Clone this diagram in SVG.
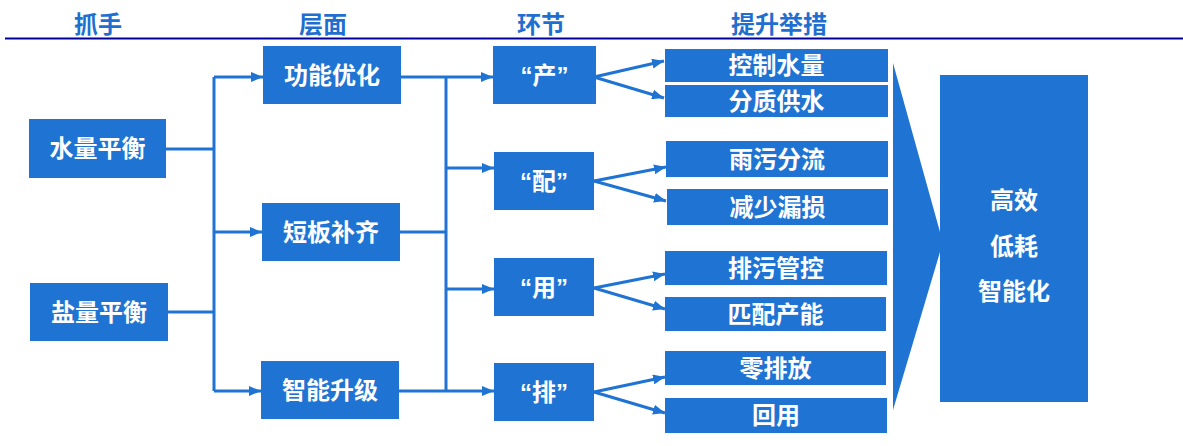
<svg xmlns="http://www.w3.org/2000/svg" width="1183" height="446" viewBox="0 0 1183 446">
<style>
.box{fill:#1F74D3}
.t{font-family:"Liberation Sans","Noto Sans CJK SC",sans-serif;font-weight:bold;font-size:24px;fill:#fff;text-anchor:middle;dominant-baseline:central}
.h{font-family:"Liberation Sans","Noto Sans CJK SC",sans-serif;font-weight:bold;font-size:24px;fill:#1F6FD0;text-anchor:middle;dominant-baseline:central}
.c{stroke:#1F74D3;stroke-width:3;fill:none}
.a{stroke:#1F74D3;stroke-width:3;fill:none;marker-end:url(#ah)}
</style>
<defs>
<marker id="ah" viewBox="0 0 12 10" refX="12" refY="5" markerWidth="12" markerHeight="10" markerUnits="userSpaceOnUse" orient="auto">
<path d="M0,0 L12,5 L0,10 z" fill="#1F74D3"/>
</marker>
</defs>
<rect width="1183" height="446" fill="#fff"/>
<g id="header">
<text class="h" x="98" y="24">抓手</text>
<text class="h" x="323" y="24">层面</text>
<text class="h" x="541" y="24">环节</text>
<text class="h" x="779" y="24">提升举措</text>
<line x1="5" y1="38.5" x2="1183" y2="38.5" stroke="#000099" stroke-width="2"/>
</g>
<g id="connectors">
<path class="c" d="M166,149 H214 M168,312 H214 M214,77 V391"/>
<path class="a" d="M214,77 H263"/>
<path class="a" d="M214,232 H262"/>
<path class="a" d="M214,391 H261"/>
<path class="c" d="M401,77 H446 M400,232 H446 M399,391 H446 M446,77 V391"/>
<path class="a" d="M446,77 H493"/>
<path class="a" d="M446,168 H494"/>
<path class="a" d="M446,289 H494"/>
<path class="a" d="M446,391 H494"/>
<path class="a" d="M594,77 L664,61"/>
<path class="a" d="M594,77 L664,98"/>
<path class="a" d="M594,181 L666,167"/>
<path class="a" d="M594,181 L666,201"/>
<path class="a" d="M594,288 L665,274"/>
<path class="a" d="M594,288 L665,309"/>
<path class="a" d="M594,392 L665,377"/>
<path class="a" d="M594,392 L665,413"/>
<polygon points="893,63 940,232 940,252 893,410" fill="#1F74D3"/>
</g>
<g id="n-shuiliang"><rect class="box" x="29" y="119" width="137" height="59"/><text class="t" x="97.5" y="148.5">水量平衡</text></g>
<g id="n-yanliang"><rect class="box" x="30" y="283" width="138" height="58"/><text class="t" x="99" y="312">盐量平衡</text></g>
<g id="n-gongneng"><rect class="box" x="263" y="46" width="138" height="58"/><text class="t" x="332" y="75">功能优化</text></g>
<g id="n-duanban"><rect class="box" x="262" y="203" width="138" height="58"/><text class="t" x="331" y="232">短板补齐</text></g>
<g id="n-zhineng"><rect class="box" x="261" y="361" width="138" height="58"/><text class="t" x="330" y="390">智能升级</text></g>
<g id="n-chan"><rect class="box" x="493" y="46" width="103" height="58"/><text class="t" x="544.5" y="75">“产”</text></g>
<g id="n-pei"><rect class="box" x="494" y="152" width="100" height="58"/><text class="t" x="544" y="181">“配”</text></g>
<g id="n-yong"><rect class="box" x="494" y="258" width="100" height="58"/><text class="t" x="544" y="287">“用”</text></g>
<g id="n-pai"><rect class="box" x="494" y="363" width="100" height="58"/><text class="t" x="544" y="392">“排”</text></g>
<g id="m1"><rect class="box" x="665" y="49" width="223" height="33"/><text class="t" x="776.5" y="65.5">控制水量</text></g>
<g id="m2"><rect class="box" x="665" y="85" width="223" height="32"/><text class="t" x="776.5" y="101">分质供水</text></g>
<g id="m3"><rect class="box" x="666" y="141" width="222" height="36"/><text class="t" x="777" y="159">雨污分流</text></g>
<g id="m4"><rect class="box" x="667" y="189" width="221" height="36"/><text class="t" x="777.5" y="207">减少漏损</text></g>
<g id="m5"><rect class="box" x="665" y="251" width="222" height="34"/><text class="t" x="776" y="268">排污管控</text></g>
<g id="m6"><rect class="box" x="665" y="297" width="221" height="34"/><text class="t" x="775.5" y="314">匹配产能</text></g>
<g id="m7"><rect class="box" x="665" y="351" width="221" height="34"/><text class="t" x="775.5" y="368">零排放</text></g>
<g id="m8"><rect class="box" x="665" y="398" width="222" height="35"/><text class="t" x="776" y="415.5">回用</text></g>
<g id="n-result"><rect class="box" x="940" y="75" width="148" height="327"/>
<text class="t" x="1014" y="200">高效</text>
<text class="t" x="1014" y="246">低耗</text>
<text class="t" x="1014" y="291">智能化</text>
</g>
</svg>
